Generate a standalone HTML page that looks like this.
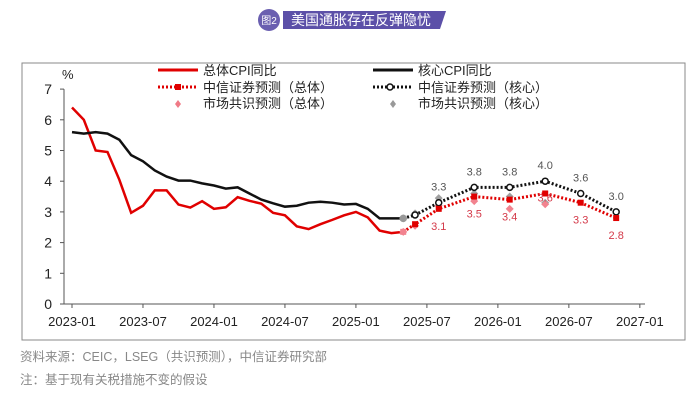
<!DOCTYPE html>
<html><head><meta charset="utf-8"><style>
body{margin:0;background:#fff;width:700px;height:400px;overflow:hidden;font-family:"Liberation Sans","Noto Sans CJK SC",sans-serif}
</style></head><body>
<svg id="c" width="700" height="400" xmlns="http://www.w3.org/2000/svg">
<g>
<circle cx="269" cy="20" r="11" fill="#6a5fb0"/>
<text x="269" y="24" font-size="10" fill="#fff" text-anchor="middle" font-family="Liberation Sans,Noto Sans CJK SC,sans-serif">图2</text>
<path d="M283 11 H446 L440 29 H283 Z" fill="#5c50a8"/>
<text x="291" y="25" font-size="14" fill="#fff" font-family="Liberation Sans,Noto Sans CJK SC,sans-serif">美国通胀存在反弹隐忧</text>
</g>
<rect x="22" y="63" width="663" height="277" fill="none" stroke="#888" stroke-width="1"/>
<g id="axes"></g><g id="marks"></g>
<g font-size="13" font-family="Liberation Sans,Noto Sans CJK SC,sans-serif" fill="#222">
<line x1="158" y1="70" x2="198" y2="70" stroke="#e00000" stroke-width="3"/><text x="203" y="75">总体CPI同比</text>
<line x1="373" y1="70" x2="413" y2="70" stroke="#111" stroke-width="3"/><text x="418" y="75">核心CPI同比</text>
<line x1="158" y1="87" x2="198" y2="87" stroke="#e00000" stroke-width="3" stroke-dasharray="2,2"/><rect x="175" y="84" width="6" height="6" fill="#e00000"/><text x="203" y="92">中信证券预测（总体）</text>
<line x1="373" y1="87" x2="413" y2="87" stroke="#111" stroke-width="3" stroke-dasharray="2,2"/><circle cx="390" cy="87" r="3" fill="#fff" stroke="#111" stroke-width="1.5"/><text x="418" y="92">中信证券预测（核心）</text>
<path d="M178 100 l3 4 l-3 4 l-3 -4z" fill="#f07a86"/><text x="203" y="108">市场共识预测（总体）</text>
<path d="M393 100 l3 4 l-3 4 l-3 -4z" fill="#999"/><text x="418" y="108">市场共识预测（核心）</text>
</g>
<text x="20" y="361" font-size="12.5" fill="#888">资料来源：CEIC，LSEG（共识预测），中信证券研究部</text>
<text x="20" y="384" font-size="12.5" fill="#888">注：基于现有关税措施不变的假设</text>
</svg>
<script>
const headline=[6.4,6.0,5.0,4.95,4.05,2.97,3.2,3.7,3.7,3.24,3.14,3.35,3.1,3.15,3.48,3.36,3.27,2.97,2.89,2.53,2.44,2.6,2.74,2.89,3.0,2.82,2.39,2.31,2.35];
const core=[5.6,5.55,5.6,5.55,5.35,4.85,4.65,4.35,4.15,4.02,4.02,3.93,3.86,3.76,3.8,3.6,3.4,3.28,3.17,3.2,3.3,3.33,3.3,3.24,3.26,3.1,2.79,2.79,2.79];
const fcMonths=[28,29,31,34,37,40,43,46];
const fcHeadline=[2.35,2.6,3.1,3.5,3.4,3.6,3.3,2.8];
const fcCore=[2.79,2.9,3.3,3.8,3.8,4.0,3.6,3.0];
const consMonths=[28,29,31,34,37,40];
const consHeadline=[2.35,2.55,3.2,3.35,3.1,3.25];
const consCore=[2.79,2.95,3.45,3.6,3.5,3.3];
const xTicks=["2023-01","2023-07","2024-01","2024-07","2025-01","2025-07","2026-01","2026-07","2027-01"];
const yTicks=[0,1,2,3,4,5,6,7];
const NS="http://www.w3.org/2000/svg";
const X=m=>72+m*11.83, Y=v=>304-v*30.7;
const ax=document.getElementById('axes'), mk=document.getElementById('marks');
function el(t,a,p){const e=document.createElementNS(NS,t);for(const k in a)e.setAttribute(k,a[k]);p.appendChild(e);return e;}
let a=el('line',{x1:64,y1:Y(7),x2:64,y2:304,stroke:'#555'},ax);


a=el('line',{x1:64,y1:304,x2:645,y2:304,stroke:'#555'},ax);


yTicks.forEach(v=>{el('line',{x1:60,x2:64,y1:Y(v),y2:Y(v),stroke:'#555'},ax);
 const t=el('text',{x:52,y:Y(v)+5,'font-size':14,fill:'#222','text-anchor':'end'},ax);t.textContent=v;
 
 });
let u=el('text',{x:62,y:79,'font-size':13,fill:'#222'},ax);u.textContent='%';


xTicks.forEach((s,i)=>{const x=X(i*6);el('line',{x1:x,x2:x,y1:304,y2:308,stroke:'#555'},ax);
 const t=el('text',{x:x,y:326,'font-size':13,fill:'#222','text-anchor':'middle'},ax);t.textContent=s;
 
 });
function pts(ms,vs){return vs.map((v,i)=>X(ms?ms[i]:i)+','+Y(v)).join(' ');}
let l=el('polyline',{points:pts(null,headline),fill:'none',stroke:'#e00000','stroke-width':2.5},mk);


l=el('polyline',{points:pts(null,core),fill:'none',stroke:'#111','stroke-width':2.5},mk);


l=el('polyline',{points:pts(fcMonths,fcCore),fill:'none',stroke:'#111','stroke-width':3,'stroke-dasharray':'2,2'},mk);


l=el('polyline',{points:pts(fcMonths,fcHeadline),fill:'none',stroke:'#e00000','stroke-width':3,'stroke-dasharray':'2,2'},mk);


consMonths.forEach((m,i)=>{const x=X(m);
 let d=el('path',{d:`M${x} ${Y(consCore[i])-4} l4 4 l-4 4 l-4 -4z`,fill:'#a0a0a0'},mk);
 
 
 d=el('path',{d:`M${x} ${Y(consHeadline[i])-4} l4 4 l-4 4 l-4 -4z`,fill:'#f2838f'},mk);
 
 });
fcMonths.forEach((m,i)=>{const x=X(m);
 let c=el('circle',{cx:x,cy:Y(fcCore[i]),r:3,fill:i==0?'#999':'#fff',stroke:i==0?'#999':'#111','stroke-width':1.5},mk);
 
 
 let r=el('rect',{x:x-3,y:Y(fcHeadline[i])-3,width:6,height:6,fill:i==0?'#f2838f':'#e00000'},mk);
 
 
 if(i>=2){
  let t=el('text',{x:x,y:Y(fcCore[i])-12,'font-size':11,fill:'#555','text-anchor':'middle'},mk);t.textContent=fcCore[i].toFixed(1);
  
  
  t=el('text',{x:x,y:Y(fcHeadline[i])+(i==5?8:21),'font-size':11,fill:'#d43a4a','text-anchor':'middle'},mk);t.textContent=fcHeadline[i].toFixed(1);
  
  }
});
</script>
</body></html>
